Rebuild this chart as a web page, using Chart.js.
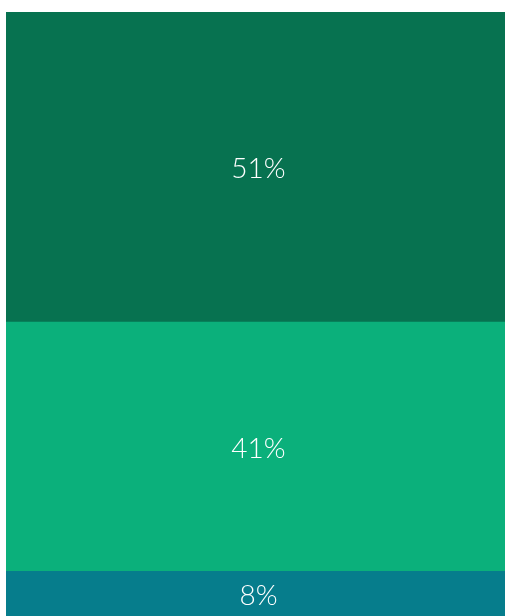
<!DOCTYPE html>
<html>
<head>
<meta charset="utf-8">
<script src="https://cdn.jsdelivr.net/npm/chart.js@4"></script>
<style>
  html, body { margin: 0; padding: 0; background: #fff; overflow: hidden; }
  #wrap { width: 507px; height: 620px; position: relative; }
</style>
</head>
<body>
<div id="wrap"><canvas id="stackChart"></canvas></div>
<script>
const categories = [""];
const segmentNames = ["c", "b", "a"];
const segmentValues = [8, 41, 51];
const segmentLabels = ["8%", "41%", "51%"];
const segmentColors = ["#067d8c", "#0bb07b", "#077250"];

// 세그먼트 가운데에 라벨
const centerLabels = {
  id: "centerLabels",
  afterDatasetsDraw(chart) {
    const { ctx } = chart;
    ctx.save();
    ctx.font = "300 28px Lato, 'Open Sans', sans-serif";
    ctx.fillStyle = "#ffffff";
    ctx.textAlign = "center";
    ctx.textBaseline = "middle";
    chart.data.datasets.forEach((ds, i) => {
      const bar = chart.getDatasetMeta(i).data[0];
      const bottom = Math.min(bar.base, 616);
      const y = (bar.y + bottom) / 2 + 2;
      ctx.fillText(segmentLabels[i], bar.x + 3, y);
    });
    ctx.restore();
  },
};

new Chart(document.getElementById("stackChart"), {
  type: "bar",
  data: {
    labels: categories,
    datasets: segmentValues.map((v, i) => ({
      label: segmentNames[i],
      data: [v],
      backgroundColor: segmentColors[i],
      borderWidth: 0,
      barPercentage: 1,
      categoryPercentage: 1,
    })),
  },
  options: {
    responsive: true,
    maintainAspectRatio: false,
    animation: false,
    layout: { padding: { top: 12, left: 6, right: 2, bottom: 0 } },
    scales: {
      x: { stacked: true, display: false },
      y: { stacked: true, display: false, min: 0, max: 100 },
    },
    plugins: {
      legend: { display: false },
      tooltip: { enabled: false },
    },
  },
  plugins: [centerLabels],
});
</script>
</body>
</html>
